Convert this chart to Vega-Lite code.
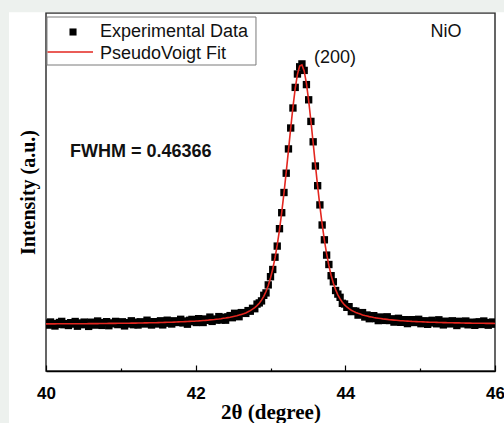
{
"$schema": "https://vega.github.io/schema/vega-lite/v6.json",
"width": 449, "height": 358,
"autosize": {"type": "none"},
"padding": {"left": 46, "top": 13, "right": 9, "bottom": 52},
"background": "white",
"config": {"view": {"stroke": "#333333", "strokeWidth": 1.5}, "axis": {"zindex": 1}},
"data": {"values": [
{"x":40.00,"fit":47.1,"exp":47.9},{"x":40.03,"fit":47.1,"exp":45.9},{"x":40.06,"fit":47.1,"exp":49.0},{"x":40.09,"fit":47.1,"exp":47.5},{"x":40.12,"fit":47.1,"exp":45.0},
{"x":40.15,"fit":47.2,"exp":46.6},{"x":40.18,"fit":47.2,"exp":48.5},{"x":40.21,"fit":47.2,"exp":49.6},{"x":40.24,"fit":47.2,"exp":46.3},{"x":40.27,"fit":47.2,"exp":47.4},
{"x":40.30,"fit":47.2,"exp":45.5},{"x":40.33,"fit":47.2,"exp":48.3},{"x":40.36,"fit":47.2,"exp":46.9},{"x":40.39,"fit":47.3,"exp":49.5},{"x":40.42,"fit":47.3,"exp":44.8},
{"x":40.45,"fit":47.3,"exp":48.0},{"x":40.48,"fit":47.3,"exp":46.3},{"x":40.51,"fit":47.3,"exp":48.9},{"x":40.54,"fit":47.3,"exp":47.1},{"x":40.57,"fit":47.4,"exp":44.6},
{"x":40.60,"fit":47.4,"exp":48.8},{"x":40.63,"fit":47.4,"exp":47.7},{"x":40.66,"fit":47.4,"exp":45.9},{"x":40.69,"fit":47.4,"exp":50.0},{"x":40.72,"fit":47.5,"exp":46.8},
{"x":40.75,"fit":47.5,"exp":45.6},{"x":40.78,"fit":47.5,"exp":48.4},{"x":40.81,"fit":47.5,"exp":49.3},{"x":40.84,"fit":47.6,"exp":45.3},{"x":40.87,"fit":47.6,"exp":48.1},
{"x":40.90,"fit":47.6,"exp":47.2},{"x":40.93,"fit":47.6,"exp":49.6},{"x":40.96,"fit":47.7,"exp":46.4},{"x":40.99,"fit":47.7,"exp":47.8},{"x":41.02,"fit":47.7,"exp":49.2},
{"x":41.05,"fit":47.7,"exp":45.1},{"x":41.08,"fit":47.8,"exp":48.4},{"x":41.11,"fit":47.8,"exp":47.0},{"x":41.14,"fit":47.9,"exp":50.2},{"x":41.17,"fit":47.9,"exp":46.3},
{"x":41.20,"fit":47.9,"exp":48.8},{"x":41.23,"fit":48.0,"exp":46.0},{"x":41.26,"fit":48.0,"exp":49.2},{"x":41.29,"fit":48.0,"exp":48.0},{"x":41.32,"fit":48.1,"exp":47.0},
{"x":41.35,"fit":48.1,"exp":50.8},{"x":41.38,"fit":48.2,"exp":47.7},{"x":41.41,"fit":48.2,"exp":46.0},{"x":41.44,"fit":48.3,"exp":49.3},{"x":41.47,"fit":48.3,"exp":48.7},
{"x":41.50,"fit":48.4,"exp":47.0},{"x":41.53,"fit":48.5,"exp":50.2},{"x":41.56,"fit":48.5,"exp":46.1},{"x":41.59,"fit":48.6,"exp":49.4},{"x":41.62,"fit":48.7,"exp":50.8},
{"x":41.65,"fit":48.7,"exp":47.8},{"x":41.68,"fit":48.8,"exp":47.0},{"x":41.71,"fit":48.9,"exp":50.2},{"x":41.74,"fit":49.0,"exp":49.2},{"x":41.77,"fit":49.1,"exp":48.5},
{"x":41.80,"fit":49.2,"exp":51.7},{"x":41.83,"fit":49.3,"exp":48.1},{"x":41.86,"fit":49.4,"exp":50.0},{"x":41.89,"fit":49.5,"exp":46.8},{"x":41.92,"fit":49.6,"exp":50.7},
{"x":41.95,"fit":49.7,"exp":51.6},{"x":41.98,"fit":49.8,"exp":49.4},{"x":42.01,"fit":50.0,"exp":48.5},{"x":42.04,"fit":50.1,"exp":52.3},{"x":42.07,"fit":50.3,"exp":50.6},
{"x":42.10,"fit":50.5,"exp":48.5},{"x":42.13,"fit":50.6,"exp":52.0},{"x":42.16,"fit":50.8,"exp":50.7},{"x":42.19,"fit":51.1,"exp":53.9},{"x":42.22,"fit":51.3,"exp":49.6},
{"x":42.25,"fit":51.5,"exp":52.0},{"x":42.28,"fit":51.8,"exp":50.9},{"x":42.31,"fit":52.0,"exp":54.4},{"x":42.34,"fit":52.3,"exp":51.0},{"x":42.37,"fit":52.7,"exp":53.7},
{"x":42.40,"fit":53.0,"exp":50.8},{"x":42.43,"fit":53.4,"exp":54.1},{"x":42.46,"fit":53.8,"exp":55.4},{"x":42.49,"fit":54.3,"exp":53.3},{"x":42.52,"fit":54.8,"exp":57.7},
{"x":42.55,"fit":55.3,"exp":55.7},{"x":42.58,"fit":55.9,"exp":54.3},{"x":42.61,"fit":56.6,"exp":58.4},{"x":42.64,"fit":57.3,"exp":58.2},{"x":42.67,"fit":58.1,"exp":57.6},
{"x":42.70,"fit":59.2,"exp":60.4},{"x":42.73,"fit":60.4,"exp":59.8},{"x":42.76,"fit":61.8,"exp":62.7},{"x":42.79,"fit":63.4,"exp":62.3},{"x":42.82,"fit":65.4,"exp":66.9},
{"x":42.85,"fit":67.8,"exp":68.1},{"x":42.88,"fit":70.9,"exp":70.1},{"x":42.91,"fit":74.7,"exp":75.7},{"x":42.94,"fit":79.5,"exp":78.1},{"x":42.97,"fit":85.5,"exp":86.1},
{"x":43.00,"fit":93.0,"exp":94.3},{"x":43.03,"fit":102.0,"exp":101.5},{"x":43.06,"fit":113.0,"exp":113.8},{"x":43.09,"fit":126.1,"exp":124.9},{"x":43.12,"fit":141.2,"exp":142.3},
{"x":43.15,"fit":158.6,"exp":158.3},{"x":43.18,"fit":177.8,"exp":178.5},{"x":43.21,"fit":198.8,"exp":197.8},{"x":43.24,"fit":220.7,"exp":222.1},{"x":43.27,"fit":242.8,"exp":243.0},
{"x":43.30,"fit":263.9,"exp":263.0},{"x":43.33,"fit":282.4,"exp":283.6},{"x":43.36,"fit":296.6,"exp":297.0},{"x":43.39,"fit":304.9,"exp":304.2},{"x":43.42,"fit":306.1,"exp":307.1},
{"x":43.45,"fit":300.1,"exp":300.6},{"x":43.48,"fit":287.7,"exp":286.4},{"x":43.51,"fit":270.4,"exp":271.2},{"x":43.54,"fit":250.0,"exp":249.6},{"x":43.57,"fit":228.1,"exp":229.2},
{"x":43.60,"fit":206.0,"exp":205.0},{"x":43.63,"fit":184.7,"exp":185.3},{"x":43.66,"fit":164.8,"exp":166.1},{"x":43.69,"fit":146.8,"exp":146.0},{"x":43.72,"fit":130.9,"exp":131.2},
{"x":43.75,"fit":117.1,"exp":115.9},{"x":43.78,"fit":105.5,"exp":106.5},{"x":43.81,"fit":95.8,"exp":95.3},{"x":43.84,"fit":87.8,"exp":89.2},{"x":43.87,"fit":81.4,"exp":80.5},
{"x":43.90,"fit":76.2,"exp":76.9},{"x":43.93,"fit":72.1,"exp":73.7},{"x":43.96,"fit":68.8,"exp":67.7},{"x":43.99,"fit":66.1,"exp":67.0},{"x":44.02,"fit":64.0,"exp":63.7},
{"x":44.05,"fit":62.3,"exp":64.3},{"x":44.08,"fit":60.8,"exp":59.4},{"x":44.11,"fit":59.6,"exp":60.1},{"x":44.14,"fit":58.6,"exp":59.8},{"x":44.17,"fit":57.7,"exp":55.9},
{"x":44.20,"fit":56.9,"exp":57.5},{"x":44.23,"fit":56.1,"exp":58.4},{"x":44.26,"fit":55.5,"exp":54.0},{"x":44.29,"fit":55.0,"exp":56.0},{"x":44.32,"fit":54.4,"exp":52.3},
{"x":44.35,"fit":54.0,"exp":54.4},{"x":44.38,"fit":53.5,"exp":55.3},{"x":44.41,"fit":53.1,"exp":52.4},{"x":44.44,"fit":52.8,"exp":50.4},{"x":44.47,"fit":52.5,"exp":54.0},
{"x":44.50,"fit":52.1,"exp":52.3},{"x":44.53,"fit":51.9,"exp":50.6},{"x":44.56,"fit":51.6,"exp":54.2},{"x":44.59,"fit":51.3,"exp":50.5},{"x":44.62,"fit":51.1,"exp":52.2},
{"x":44.65,"fit":50.9,"exp":48.9},{"x":44.68,"fit":50.7,"exp":51.4},{"x":44.71,"fit":50.5,"exp":52.7},{"x":44.74,"fit":50.3,"exp":48.7},{"x":44.77,"fit":50.2,"exp":50.2},
{"x":44.80,"fit":50.0,"exp":51.3},{"x":44.83,"fit":49.9,"exp":47.4},{"x":44.86,"fit":49.8,"exp":50.7},{"x":44.89,"fit":49.6,"exp":51.3},{"x":44.92,"fit":49.5,"exp":48.5},
{"x":44.95,"fit":49.4,"exp":49.0},{"x":44.98,"fit":49.3,"exp":51.7},{"x":45.01,"fit":49.2,"exp":47.3},{"x":45.04,"fit":49.1,"exp":49.7},{"x":45.07,"fit":49.0,"exp":50.2},
{"x":45.10,"fit":48.9,"exp":46.7},{"x":45.13,"fit":48.8,"exp":49.1},{"x":45.16,"fit":48.8,"exp":50.7},{"x":45.19,"fit":48.7,"exp":48.1},{"x":45.22,"fit":48.6,"exp":47.2},
{"x":45.25,"fit":48.5,"exp":51.2},{"x":45.28,"fit":48.5,"exp":48.6},{"x":45.31,"fit":48.4,"exp":46.1},{"x":45.34,"fit":48.4,"exp":49.8},{"x":45.37,"fit":48.3,"exp":49.1},
{"x":45.40,"fit":48.2,"exp":47.1},{"x":45.43,"fit":48.2,"exp":50.2},{"x":45.46,"fit":48.1,"exp":47.8},{"x":45.49,"fit":48.1,"exp":45.5},{"x":45.52,"fit":48.1,"exp":49.7},
{"x":45.55,"fit":48.0,"exp":48.5},{"x":45.58,"fit":48.0,"exp":47.1},{"x":45.61,"fit":47.9,"exp":50.0},{"x":45.64,"fit":47.9,"exp":46.2},{"x":45.67,"fit":47.9,"exp":48.3},
{"x":45.70,"fit":47.8,"exp":48.8},{"x":45.73,"fit":47.8,"exp":45.7},{"x":45.76,"fit":47.8,"exp":48.6},{"x":45.79,"fit":47.7,"exp":49.2},{"x":45.82,"fit":47.7,"exp":46.5},
{"x":45.85,"fit":47.7,"exp":50.0},{"x":45.88,"fit":47.6,"exp":47.1},{"x":45.91,"fit":47.6,"exp":45.8},{"x":45.94,"fit":47.6,"exp":48.5},{"x":45.97,"fit":47.6,"exp":48.9},
{"x":46.00,"fit":47.5,"exp":46.8}
]},
"layer": [
{"data": {"values": [{}]}, "mark": {"type": "rect", "color": "#edf1ee", "clip": false},
 "encoding": {"x": {"datum": 39.0, "type": "quantitative"}, "x2": {"datum": 39.506}, "y": {"datum": -60, "type": "quantitative"}, "y2": {"datum": 400}}},
{"data": {"values": [{}]}, "mark": {"type": "rect", "color": "#edf1ee", "clip": false},
 "encoding": {"x": {"datum": 39.0, "type": "quantitative"}, "x2": {"datum": 46.6}, "y": {"datum": 358.8, "type": "quantitative"}, "y2": {"datum": 400}}},
{"mark": {"type": "point", "shape": "square", "filled": true, "size": 54, "opacity": 1, "color": "#000000", "clip": true},
 "encoding": {
  "x": {"field": "x", "type": "quantitative", "scale": {"domain": [40, 46], "nice": false, "zero": false},
   "axis": {"values": [40, 41, 42, 43, 44, 45, 46], "format": "d", "labelExpr": "datum.value % 2 === 0 ? datum.label : ''",
    "tickSize": {"condition": {"test": "datum.value % 2 === 1", "value": -3}, "value": -6},
    "tickColor": "#000", "tickWidth": 1.2, "domainColor": "#000", "domainWidth": 1.5, "grid": false,
    "labelFont": "Liberation Sans", "labelFontWeight": "bold", "labelFontSize": 17, "labelColor": "#000",
    "labelPadding": 20, "labelFlush": false, "labelOverlap": false, "labelBound": false,
    "title": "2θ (degree)", "titleFont": "Liberation Serif", "titleFontSize": 21, "titleFontWeight": "bold",
    "titleColor": "#000", "titleY": 41, "titleBaseline": "middle"}},
  "y": {"field": "exp", "type": "quantitative", "scale": {"domain": [0, 358], "nice": false, "zero": false},
   "axis": {"labels": false, "ticks": false, "domain": false, "grid": false,
    "title": "Intensity (a.u.)", "titleFont": "Liberation Serif", "titleFontSize": 20, "titleFontWeight": "bold",
    "titleColor": "#000", "titleX": -18, "titleY": 179, "titleAngle": -90, "titleBaseline": "middle", "titleAlign": "center"}}
 }},
{"mark": {"type": "line", "strokeWidth": 1.6, "color": "#e3261f", "clip": true},
 "encoding": {"x": {"field": "x", "type": "quantitative"}, "y": {"field": "fit", "type": "quantitative"}}},
{"data": {"values": [{}]}, "mark": {"type": "rect", "fill": "white", "stroke": "#7a7a7a", "strokeWidth": 1},
 "encoding": {"x": {"datum": 40.013, "type": "quantitative"}, "x2": {"datum": 42.806}, "y": {"datum": 306, "type": "quantitative"}, "y2": {"datum": 354}}},
{"data": {"values": [{}]}, "mark": {"type": "point", "shape": "square", "filled": true, "size": 50, "opacity": 1, "color": "#000000"},
 "encoding": {"x": {"datum": 40.361, "type": "quantitative"}, "y": {"datum": 339, "type": "quantitative"}}},
{"data": {"values": [{}]}, "mark": {"type": "rule", "color": "#e3261f", "strokeWidth": 1.6},
 "encoding": {"x": {"datum": 40.02, "type": "quantitative"}, "x2": {"datum": 40.628}, "y": {"datum": 319, "type": "quantitative"}}},
{"data": {"values": [{}]}, "mark": {"type": "text", "text": "Experimental Data", "font": "Liberation Sans", "fontSize": 18, "color": "#111", "align": "left", "baseline": "alphabetic"},
 "encoding": {"x": {"datum": 40.722, "type": "quantitative"}, "y": {"datum": 334, "type": "quantitative"}}},
{"data": {"values": [{}]}, "mark": {"type": "text", "text": "PseudoVoigt Fit", "font": "Liberation Sans", "fontSize": 18, "color": "#111", "align": "left", "baseline": "alphabetic"},
 "encoding": {"x": {"datum": 40.722, "type": "quantitative"}, "y": {"datum": 312, "type": "quantitative"}}},
{"data": {"values": [{}]}, "mark": {"type": "text", "text": "NiO", "font": "Liberation Sans", "fontSize": 18, "color": "#111", "align": "center", "baseline": "middle"},
 "encoding": {"x": {"datum": 45.345, "type": "quantitative"}, "y": {"datum": 339, "type": "quantitative"}}},
{"data": {"values": [{}]}, "mark": {"type": "text", "text": "(200)", "font": "Liberation Sans", "fontSize": 18, "color": "#111", "align": "center", "baseline": "middle"},
 "encoding": {"x": {"datum": 43.862, "type": "quantitative"}, "y": {"datum": 313, "type": "quantitative"}}},
{"data": {"values": [{}]}, "mark": {"type": "text", "text": "FWHM = 0.46366", "font": "Liberation Sans", "fontSize": 18, "fontWeight": "bold", "color": "#111", "align": "left", "baseline": "middle"},
 "encoding": {"x": {"datum": 40.321, "type": "quantitative"}, "y": {"datum": 219, "type": "quantitative"}}}
]
}
